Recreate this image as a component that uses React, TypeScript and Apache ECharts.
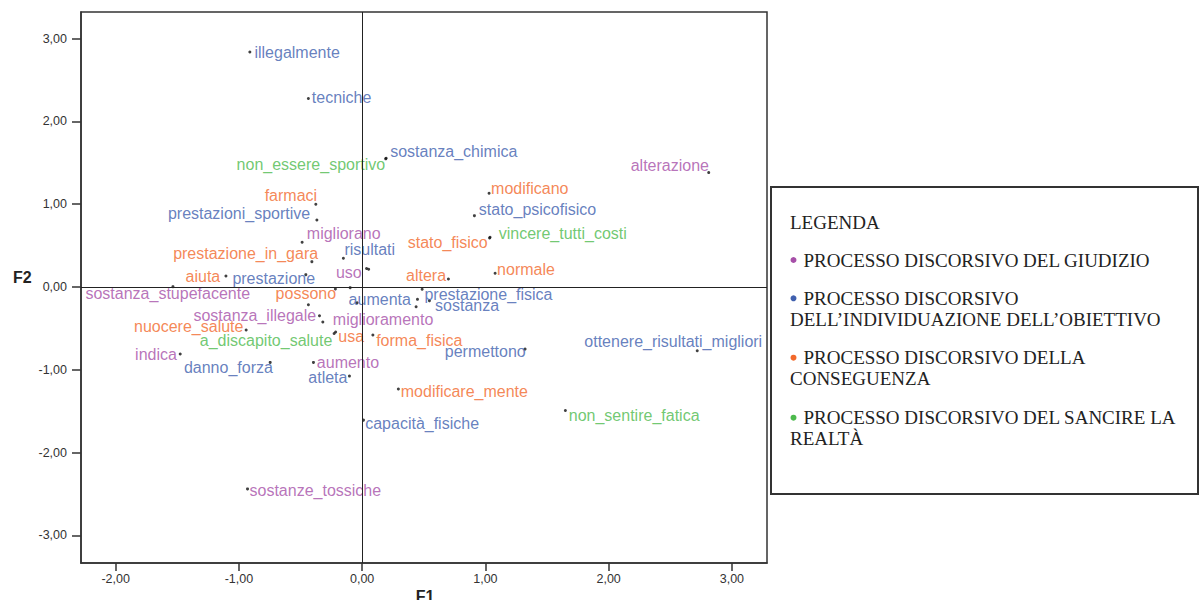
import React, { useEffect, useRef } from "react";
import * as echarts from "echarts";

// ---- DATA ----
const categoryNames = [
  "PROCESSO DISCORSIVO DEL GIUDIZIO",
  "PROCESSO DISCORSIVO\nDELL’INDIVIDUAZIONE DELL’OBIETTIVO",
  "PROCESSO DISCORSIVO DELLA\nCONSEGUENZA",
  "PROCESSO DISCORSIVO DEL SANCIRE LA\nREALTÀ",
];
const legendTitle = "LEGENDA";

const words = [
  "illegalmente", "tecniche", "sostanza_chimica", "non_essere_sportivo", "alterazione",
  "modificano", "stato_psicofisico", "vincere_tutti_costi", "stato_fisico", "normale",
  "altera", "prestazione_fisica", "sostanza", "aumenta", "sostanza_stupefacente",
  "farmaci", "prestazioni_sportive", "migliorano", "prestazione_in_gara", "risultati",
  "uso", "aiuta", "prestazione", "possono", "sostanza_illegale",
  "miglioramento", "nuocere_salute", "a_discapito_salute", "usa", "forma_fisica",
  "indica", "danno_forza", "aumento", "atleta", "permettono",
  "ottenere_risultati_migliori", "modificare_mente", "non_sentire_fatica", "capacità_fisiche", "sostanze_tossiche",
];
const f1Values = [
  -0.911, -0.436, 0.195, 0.191, 2.812,
  1.030, 0.911, 1.038, 1.034, 1.079,
  0.700, 0.487, 0.546, 0.449, -1.535,
  -0.376, -0.367, -0.487, -0.408, -0.152,
  0.036, -1.105, -0.457, -0.217, -0.346,
  -0.319, -0.941, -0.227, -0.215, 0.087,
  -1.476, -0.746, -0.395, -0.103, 1.322,
  2.719, 0.294, 1.649, 0.011, -0.930,
];
const f2Values = [
  2.838, 2.277, 1.556, 1.548, 1.382,
  1.133, 0.862, 0.601, 0.592, 0.166,
  0.097, -0.028, -0.166, -0.149, 0.004,
  1.000, 0.810, 0.540, 0.306, 0.347,
  0.224, 0.133, 0.149, -0.024, -0.347,
  -0.423, -0.520, -0.562, -0.544, -0.580,
  -0.810, -0.911, -0.911, -1.076, -0.750,
  -0.770, -1.233, -1.491, -1.608, -2.439,
];
// 0 giudizio, 1 obiettivo, 2 conseguenza, 3 realtà
const wordCategory = [
  1, 1, 1, 3, 0,
  2, 1, 3, 2, 2,
  2, 1, 1, 1, 0,
  2, 1, 0, 2, 1,
  0, 2, 1, 2, 0,
  0, 2, 3, 2, 2,
  0, 1, 0, 1, 1,
  1, 2, 3, 1, 0,
];
const unlabeledF1 = [-0.097, -0.041, 0.438, -0.436, 0.053];
const unlabeledF2 = [-0.008, -0.19, -0.238, -0.214, 0.214];

const xTicks = [-2, -1, 0, 1, 2, 3];
const yTicks = [-3, -2, -1, 0, 1, 2, 3];

// ---- STYLE ----
const categoryColors = ["#a64fa8", "#4060ae", "#f2692b", "#4dba4d"];
// [align, dx, dy] of each word label relative to its point
const labelPlacement: [string, number, number][] = [
  ["left", 4.6, 0], ["left", 3.4, -0.7], ["left", 4, -6.6], ["right", -0.5, 5.3], ["right", 0.3, -7],
  ["left", 2, -4.3], ["left", 4.4, -6.4], ["left", 8.7, -3.6], ["right", -1.8, 4.7], ["left", 2, -3.6],
  ["right", -2.3, -3.3], ["left", 2.3, 4.7], ["left", 5.7, 4.3], ["right", -6.6, 0], ["center", -5.2, 7.3],
  ["right", 1.3, -8.6], ["right", -6.7, -6.7], ["left", 4.7, -9], ["right", 6.3, -7.7], ["left", 1, -8.3],
  ["right", -4.8, 3.8], ["right", -5.7, 0.7], ["right", 9.3, 3.6], ["right", 0.7, 4.3], ["right", -3.3, -0.7],
  ["left", 10, -3], ["right", -2.7, -4], ["right", -1.8, 6.7], ["left", 2.7, 4.4], ["left", 3.3, 5],
  ["right", -3.3, 0], ["right", 2.7, 5], ["left", 3.4, 0], ["right", -2, 1.7], ["right", 0.7, 2],
  ["center", -24, -9], ["left", 2.4, 2.3], ["left", 3.4, 4.7], ["left", 1.7, 3.3], ["left", 2, 2],
];

const SANS = "'Liberation Sans', Arial, sans-serif";
const SERIF = "'Liberation Serif', 'Times New Roman', serif";
const fmt = (v: number) => v.toFixed(2).replace(".", ",");

export default function App() {
  const ref = useRef<HTMLDivElement>(null);
  useEffect(() => {
    document.body.style.margin = "0";
    if (!ref.current) return;
    const chart = echarts.init(ref.current, undefined, { renderer: "svg" });

    const series: any[] = categoryNames.map((cn, c) => ({
      type: "scatter",
      name: cn,
      symbol: "circle",
      symbolSize: 3,
      itemStyle: { color: "#111" },
      silent: true,
      emphasis: { disabled: true },
      label: {
        show: true,
        position: "inside",
        formatter: "{b}",
        color: categoryColors[c],
        fontSize: 16,
        fontFamily: SANS,
        textBorderWidth: 0,
      },
      data: words
        .map((w, i) => ({ w, i }))
        .filter((o) => wordCategory[o.i] === c)
        .map(({ w, i }) => ({
          name: w,
          value: [f1Values[i], f2Values[i]],
          label: { align: labelPlacement[i][0], offset: [labelPlacement[i][1], labelPlacement[i][2]] },
        })),
    }));
    series.push({
      type: "scatter",
      name: "other",
      symbolSize: 3,
      itemStyle: { color: "#111" },
      silent: true,
      data: unlabeledF1.map((x, i) => [x, unlabeledF2[i]]),
      markLine: {
        silent: true,
        symbol: "none",
        label: { show: false },
        lineStyle: { color: "#222", width: 1, type: "solid" },
        data: [{ xAxis: 0 }, { yAxis: 0 }],
      },
    });

    // legend graphic
    const graphic: any[] = [
      {
        type: "rect",
        shape: { x: 771, y: 187, width: 427, height: 307 },
        style: { fill: "#fff", stroke: "#333", lineWidth: 2 },
        z: 10,
      },
      {
        type: "text",
        x: 790,
        y: 222,
        style: { text: legendTitle, font: `19px ${SERIF}`, fill: "#222", verticalAlign: "middle" },
        z: 11,
      },
      {
        type: "text",
        x: 13,
        y: 277,
        style: { text: "F2", font: `bold 16px ${SANS}`, fill: "#222", verticalAlign: "middle" },
        z: 11,
      },
      {
        type: "text",
        x: 425,
        y: 596,
        style: { text: "F1", font: `bold 16px ${SANS}`, fill: "#222", verticalAlign: "middle", align: "center" },
        z: 11,
      },
    ];
    const itemStarts = [260, 298.3, 357.7, 417.7];
    categoryNames.forEach((cn, c) => {
      const lines = cn.split("\n");
      const y0 = itemStarts[c];
      graphic.push({
        type: "circle",
        shape: { cx: 793.5, cy: y0, r: 3 },
        style: { fill: categoryColors[c] },
        z: 11,
      });
      lines.forEach((ln, k) => {
        graphic.push({
          type: "text",
          x: k === 0 ? 803.5 : 790,
          y: y0 + k * 21,
          style: { text: ln, font: `19px ${SERIF}`, fill: "#222", verticalAlign: "middle" },
          z: 11,
        });
      });
    });

    chart.setOption({
      animation: false,
      grid: {
        left: 81,
        right: 432,
        top: 12,
        bottom: 37,
        show: true,
        borderColor: "#333",
        borderWidth: 1.5,
        backgroundColor: "transparent",
      },
      xAxis: {
        type: "value",
        min: -2.281,
        max: 3.285,
        splitLine: { show: false },
        axisLine: { show: true, onZero: false, lineStyle: { color: "#333", width: 1.5 } },
        axisTick: { show: true, length: 8, customValues: xTicks, lineStyle: { color: "#333", width: 1.5 } },
        axisLabel: {
          customValues: xTicks,
          formatter: (v: number) => fmt(v),
          color: "#333",
          fontSize: 12.5,
          fontFamily: SANS,
          margin: 9,
        },
      },
      yAxis: {
        type: "value",
        min: -3.334,
        max: 3.322,
        splitLine: { show: false },
        axisLine: { show: true, onZero: false, lineStyle: { color: "#333", width: 1.5 } },
        axisTick: { show: true, length: 9, customValues: yTicks, lineStyle: { color: "#333", width: 1.5 } },
        axisLabel: {
          customValues: yTicks,
          formatter: (v: number) => fmt(v),
          color: "#333",
          fontSize: 12.5,
          fontFamily: SANS,
          margin: 14,
        },
      },
      graphic,
      series,
    });
    return () => chart.dispose();
  }, []);
  return <div ref={ref} style={{ width: 1199, height: 600 }} />;
}
